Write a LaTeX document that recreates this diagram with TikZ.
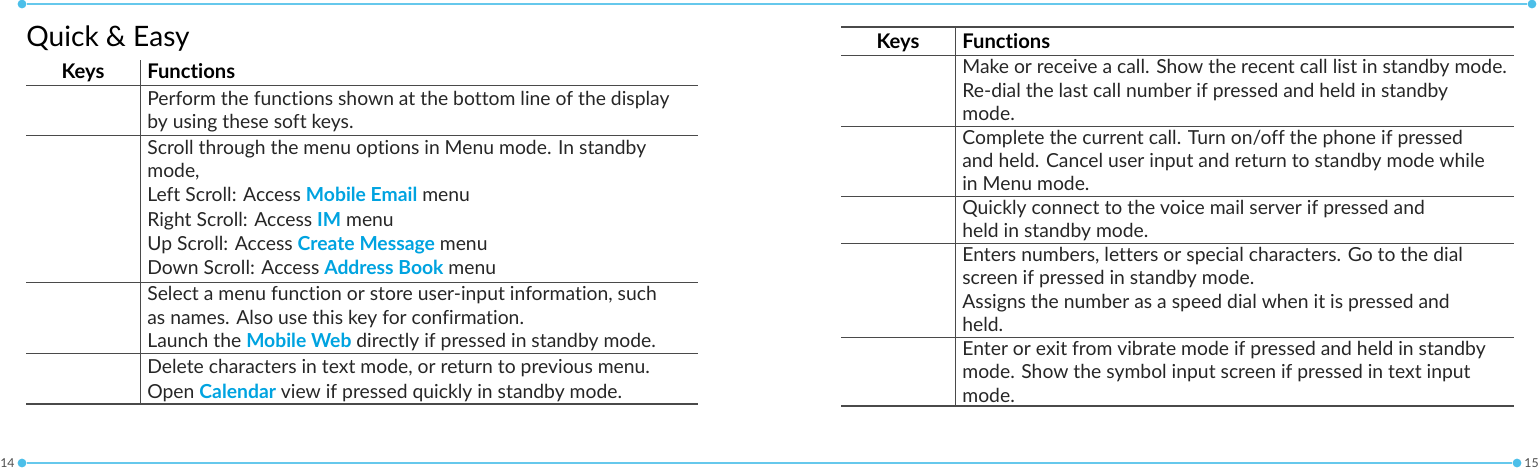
\documentclass[tikz,border=0pt]{standalone}
\usepackage{fontspec}
\setmainfont{Lato}[RawFeature=-liga]
\usepackage{tikz}
\usetikzlibrary{positioning}
\definecolor{accent}{HTML}{00A3E0}
\definecolor{rule}{HTML}{4A4A4A}
\newcommand{\hl}[1]{\textcolor{accent}{\textbf{#1}}}

\begin{document}
\begin{tikzpicture}[x={(0.02cm,0)}, y={(0,-0.02cm)},
  txt/.style={anchor=base west, inner sep=0pt, font=\fontsize{11}{13}\selectfont, text=black!85},
  head/.style={anchor=base, inner sep=0pt, font=\fontsize{11.5}{13}\selectfont\bfseries},
  thin rule/.style={rule, line width=0.5pt},
  thick rule/.style={rule, line width=1pt},
  page line/.style={accent!60, line width=0.6pt},
  dot/.style={circle, fill=accent!70, inner sep=0pt, minimum size=5pt}]
\useasboundingbox (0,0) rectangle (1539,467);
% page borders
\node[dot] (dtl) at (22,4) {};
\node[dot] (dtr) at (1532,4) {};
\draw[page line] (dtl) -- (dtr);
\node[dot] (dbl) at (22,463) {};
\node[dot] (dbr) at (1517,463) {};
\draw[page line] (dbl) -- (dbr);
\node[anchor=west, inner sep=0pt, font=\fontsize{7}{8}\selectfont, text=black!70] (pl) at (0,463) {14};
\node[anchor=east, inner sep=0pt, font=\fontsize{7}{8}\selectfont, text=black!70] (pr) at (1539,463) {15};
% title
\node[anchor=base west, inner sep=0pt, font=\fontsize{16}{18}\selectfont] (title) at (26,46) {Quick \& Easy};

% left table
\draw[thin rule] (26,85) -- (698,85);
\foreach \y in {135,282,353}{
  \draw[thin rule] (26,\y) -- (698,\y);
}
\draw[thick rule] (26,404) -- (698,404);
\draw[thin rule] (140,60) -- (140,404);
\node[head] (lkeys) at (83,78) {Keys};
\node[head, anchor=base west] (lfun) at (147,78) {Functions};
\node[txt] (a1) at (147,105) {Perform the functions shown at the bottom line of the display};
\node[txt] (a2) at (147,128) {by using these soft keys.};
\node[txt] (b1) at (147,154) {Scroll through the menu options in Menu mode. In standby};
\node[txt] (b2) at (147,177) {mode,};
\node[txt] (b3) at (147,201) {Left Scroll: Access \hl{Mobile Email} menu};
\node[txt] (b4) at (147,226) {Right Scroll: Access \hl{IM} menu};
\node[txt] (b5) at (147,250) {Up Scroll: Access \hl{Create Message} menu};
\node[txt] (b6) at (147,274) {Down Scroll: Access \hl{Address Book} menu};
\node[txt] (c1) at (147,300) {Select a menu function or store user-input information, such};
\node[txt] (c2) at (147,324) {as names. Also use this key for confirmation.};
\node[txt] (c3) at (147,347) {Launch the \hl{Mobile Web} directly if pressed in standby mode.};
\node[txt] (d1) at (147,373) {Delete characters in text mode, or return to previous menu.};
\node[txt] (d2) at (147,398) {Open \hl{Calendar} view if pressed quickly in standby mode.};

% right table
\draw[thick rule] (841,27) -- (1514,27);
\draw[thin rule] (841,55) -- (1514,55);
\foreach \y in {126,196,243,337}{
  \draw[thin rule] (841,\y) -- (1514,\y);
}
\draw[thick rule] (841,406) -- (1514,406);
\draw[thin rule] (955,27) -- (955,406);
\node[head] (rkeys) at (898,48) {Keys};
\node[head, anchor=base west] (rfun) at (962,48) {Functions};
\node[txt] (e1) at (962,73) {Make or receive a call. Show the recent call list in standby mode.};
\node[txt] (e2) at (962,97) {Re-dial the last call number if pressed and held in standby};
\node[txt] (e3) at (962,120) {mode.};
\node[txt] (f1) at (962,144) {Complete the current call. Turn on/off the phone if pressed};
\node[txt] (f2) at (962,167) {and held. Cancel user input and return to standby mode while};
\node[txt] (f3) at (962,190) {in Menu mode.};
\node[txt] (g1) at (962,214) {Quickly connect to the voice mail server if pressed and};
\node[txt] (g2) at (962,237) {held in standby mode.};
\node[txt] (h1) at (962,261) {Enters numbers, letters or special characters. Go to the dial};
\node[txt] (h2) at (962,284) {screen if pressed in standby mode.};
\node[txt] (h3) at (962,308) {Assigns the number as a speed dial when it is pressed and};
\node[txt] (h4) at (962,331) {held.};
\node[txt] (i1) at (962,355) {Enter or exit from vibrate mode if pressed and held in standby};
\node[txt] (i2) at (962,378) {mode. Show the symbol input screen if pressed in text input};
\node[txt] (i3) at (962,402) {mode.};
\end{tikzpicture}
\end{document}
